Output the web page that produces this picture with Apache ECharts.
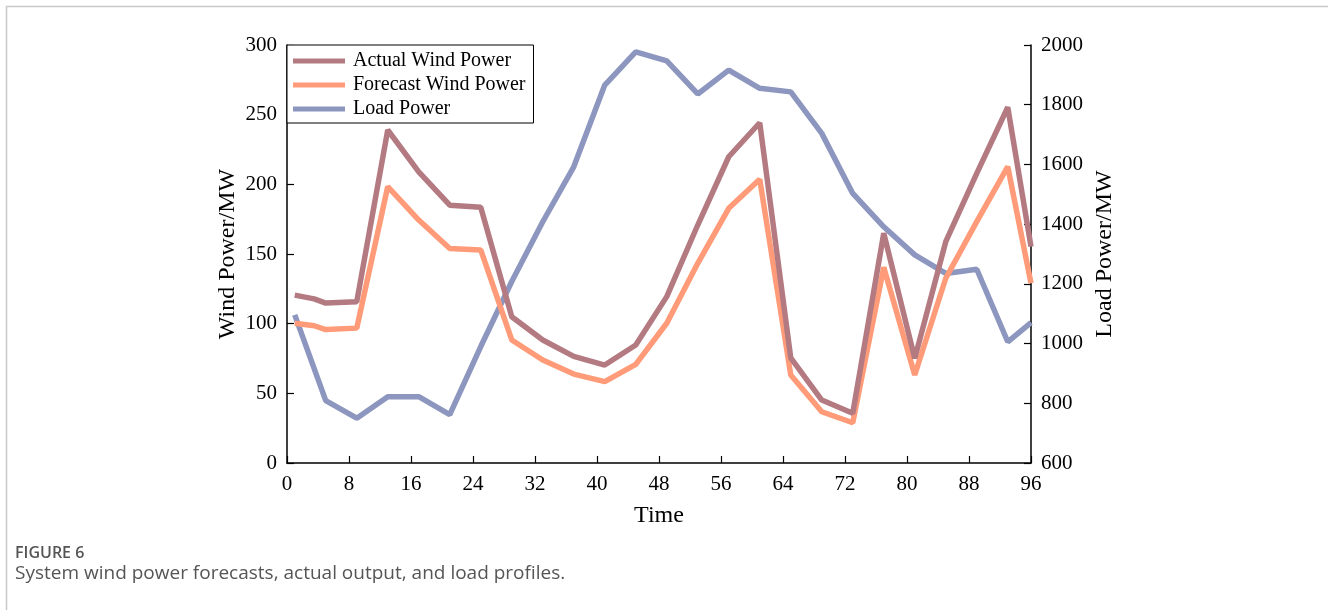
<!DOCTYPE html>
<html>
<head>
<meta charset="utf-8">
<script src="https://cdn.jsdelivr.net/npm/echarts@6/dist/echarts.min.js"></script>
<style>
html,body{margin:0;padding:0;background:#fff;}
#c{width:1328px;height:610px;}
</style>
</head>
<body>
<div id="c"></div>
<script>
var windX = [1, 3.5, 5, 9, 13, 17, 21, 25, 29, 33, 37, 41, 45, 49, 53, 57, 61, 65, 69, 73, 77, 81, 85, 89, 93, 96];
var actualWind = [120.5, 117.8, 114.8, 115.8, 239, 209, 185, 183.5, 105, 88.3, 76.5, 70.3, 84.7, 119.4, 170.8, 219.8, 244.2, 75.5, 45.2, 35.7, 164.9, 75.1, 158.8, 207.9, 255.3, 155.3];
var forecastWind = [100.3, 98.5, 95.8, 96.8, 198.3, 174.4, 154, 152.9, 88.3, 73.9, 63.8, 58.4, 70.8, 100.3, 143.3, 182.8, 203.6, 63.2, 36.8, 28.9, 140.4, 63.2, 132.6, 173.2, 212.7, 129];
var loadX = [1, 5, 9, 13, 17, 21, 25, 29, 33, 37, 41, 45, 49, 53, 57, 61, 65, 69, 73, 77, 81, 85, 89, 93, 96];
var loadPower = [1096, 809, 750, 822, 822, 762, 990, 1208, 1408, 1592, 1866, 1977, 1947, 1836, 1916, 1855, 1843, 1704, 1503, 1391, 1297, 1235, 1249, 1006, 1070];
var seriesNames = ['Actual Wind Power', 'Forecast Wind Power', 'Load Power'];
var colors = ['#B47A82', '#FF9B78', '#8C96BE'];

function pairs(xs, ys){ return xs.map(function(x,i){ return [x, ys[i]]; }); }

var serif = '"Liberation Serif", "Times New Roman", serif';
var chart = echarts.init(document.getElementById('c'), null, {renderer:'canvas'});
var axisCommon = {
  axisLine:{show:true, lineStyle:{color:'#000', width:1.5}},
  axisTick:{show:true, inside:true, length:7, lineStyle:{color:'#000', width:1.2}},
  axisLabel:{color:'#000', fontFamily:serif, fontSize:21, margin:10, formatter:function(v){return String(v);}},
  splitLine:{show:false},
  nameMoveOverlap:false,
  nameTextStyle:{color:'#000', fontFamily:serif, fontSize:24}
};
chart.setOption({
  animation:false,
  backgroundColor:'#fff',
  grid:{left:287, right:297, top:45, bottom:147, containLabel:false},
  legend:{
    data: seriesNames,
    orient:'vertical',
    left:287, top:45,
    padding:[6, 8, 4, 6],
    itemGap:4,
    itemWidth:52, itemHeight:5,
    icon:'rect',
    borderColor:'#000', borderWidth:1,
    backgroundColor:'#fff',
    textStyle:{color:'#000', fontFamily:serif, fontSize:20, lineHeight:20, padding:[0,0,0,3]}
  },
  xAxis:Object.assign({}, axisCommon, {
    type:'value', min:0, max:96, interval:8,
    name:'Time', nameLocation:'middle', nameGap:41,
    axisLabel:Object.assign({}, axisCommon.axisLabel, {margin:11})
  }),
  yAxis:[
    Object.assign({}, axisCommon, {
      type:'value', min:0, max:300, interval:50, position:'left',
      name:'Wind Power/MW', nameLocation:'middle', nameGap:47
    }),
    Object.assign({}, axisCommon, {
      type:'value', min:600, max:2000, interval:200, position:'right',
      name:'Load Power/MW', nameLocation:'middle', nameGap:62
    })
  ],
  series:[
    {name:seriesNames[0], type:'line', yAxisIndex:0, data:pairs(windX, actualWind), showSymbol:false, symbol:'none', lineStyle:{width:5.5, color:colors[0]}, itemStyle:{color:colors[0]}, z:3},
    {name:seriesNames[1], type:'line', yAxisIndex:0, data:pairs(windX, forecastWind), showSymbol:false, symbol:'none', lineStyle:{width:5.5, color:colors[1]}, itemStyle:{color:colors[1]}, z:2},
    {name:seriesNames[2], type:'line', yAxisIndex:1, data:pairs(loadX, loadPower), showSymbol:false, symbol:'none', lineStyle:{width:5.5, color:colors[2]}, itemStyle:{color:colors[2]}, z:1}
  ],
  graphic:[
    {type:'rect', left:4, top:4, shape:{width:1323, height:700}, style:{fill:'none', stroke:'#c8c8c8', lineWidth:1.5}, silent:true},
    {type:'text', left:15, top:545, style:{text:'FIGURE 6', fill:'#555', font:'600 16px "Open Sans", "Noto Sans", sans-serif'}},
    {type:'text', left:15, top:564, style:{text:'System wind power forecasts, actual output, and load profiles.', fill:'#555', font:'19px "Open Sans", "Noto Sans", sans-serif'}}
  ]
});
</script>
</body>
</html>
